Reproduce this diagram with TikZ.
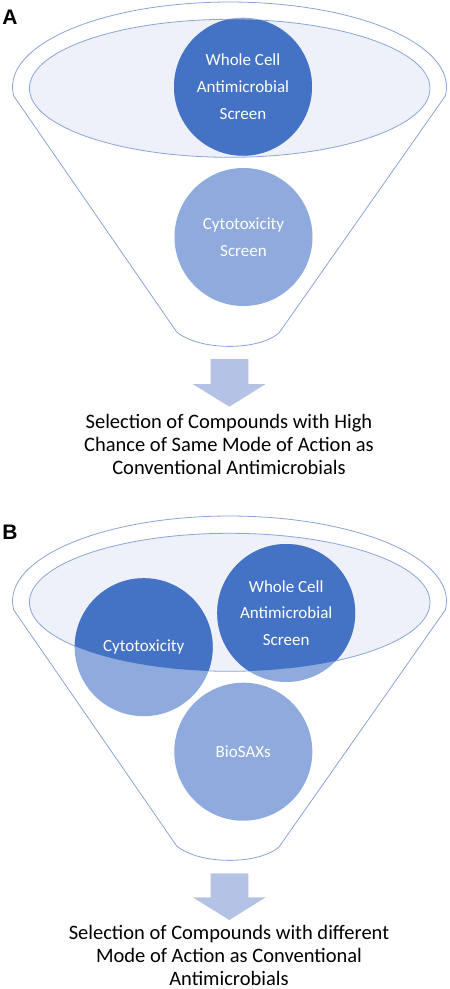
\documentclass[tikz,border=0pt]{standalone}
\usepackage{fontspec}
\setmainfont{Carlito}
\newfontfamily\labfont{Liberation Sans}
\definecolor{cdark}{HTML}{4472C4}
\definecolor{clight}{HTML}{8FAADC}
\definecolor{cline}{HTML}{8BA5DA}
\definecolor{cell}{HTML}{EEF0FA}
\definecolor{carrow}{HTML}{B4C2E6}
\tikzset{
  funnel/.style={draw=cline, line width=0.8pt},
  innerell/.style={draw=cline, fill=cell, line width=0.8pt},
  disc/.style={circle, fill=clight, minimum size=138pt, inner sep=0pt},
  disctext/.style={text=white, align=center, font=\fontsize{17}{26.7}\selectfont},
  result/.style={align=center, font=\fontsize{20.5}{23}\selectfont, text=black, inner sep=1pt},
  panellab/.style={font=\labfont\bfseries\fontsize{21}{21}\selectfont},
  arrowfill/.style={fill=carrow},
}
\begin{document}
\begin{tikzpicture}[x=1pt,y=1pt]
\begin{scope}[yscale=-1]
\useasboundingbox (0,0) rectangle (450,989);
\fill[white] (0,0) rectangle (450,989);

% ---------- Panel A ----------
\node[panellab] (labA) at (10,17.5) {A};
\draw[funnel] (13.7,95.9) arc[start angle=174, end angle=366, x radius=217, y radius=85]
  -- (279,333) .. controls (258,351) and (200,351) .. (176.7,332) -- cycle;
\draw[innerell] (229.7,88.3) ellipse[x radius=200.3, y radius=69];
\node[disc] (wcA) at (243,86.7) {};
\node[disc] (ctA) at (243.5,237) {};
\begin{scope}
  \clip (229.7,88.3) ellipse[x radius=200.3, y radius=69];
  \fill[cdark] (243,86.7) circle[radius=69];
\end{scope}
\node[disctext] (wcAt) at (wcA.center) {Whole Cell\\Antimicrobial\\Screen};
\node[disctext] (ctAt) at (ctA.center) {Cytotoxicity\\Screen};
\fill[arrowfill] (210.7,359) -- (248.3,359) -- (248.3,384) -- (265.7,384) -- (229.3,406.7) -- (192.7,384) -- (210.7,384) -- cycle;
\node[result] (resA) at (229,444.3) {Selection of Compounds with High\\Chance of Same Mode of Action as\\Conventional Antimicrobials};

% ---------- Panel B ----------
\begin{scope}[shift={(0,514)}]
\node[panellab] (labB) at (10,18.5) {B};
\draw[funnel] (13.7,95.9) arc[start angle=174, end angle=366, x radius=217, y radius=85]
  -- (279,333) .. controls (258,351) and (200,351) .. (176.7,332) -- cycle;
\draw[innerell] (229.7,88.3) ellipse[x radius=200.3, y radius=69];
\node[disc] (ctB) at (143.7,133.2) {};
\node[disc] (wcB) at (286.2,99) {};
\node[disc] (bsB) at (243.3,237.7) {};
\begin{scope}
  \clip (229.7,88.3) ellipse[x radius=200.3, y radius=69];
  \fill[cdark] (143.7,133.2) circle[radius=69];
  \fill[cdark] (286.2,99) circle[radius=69];
\end{scope}
\node[disctext] (ctBt) at (ctB.center) {Cytotoxicity};
\node[disctext] (wcBt) at (wcB.center) {Whole Cell\\Antimicrobial\\Screen};
\node[disctext] (bsBt) at (bsB.center) {BioSAXs};
\fill[arrowfill] (210.7,359.3) -- (248.3,359.3) -- (248.3,383.3) -- (265.7,383.3) -- (229.3,406) -- (192.7,383.3) -- (210.7,383.3) -- cycle;
\node[result] (resB) at (229,441.5) {Selection of Compounds with different\\Mode of Action as Conventional\\Antimicrobials};
\end{scope}
\end{scope}
\end{tikzpicture}
\end{document}
